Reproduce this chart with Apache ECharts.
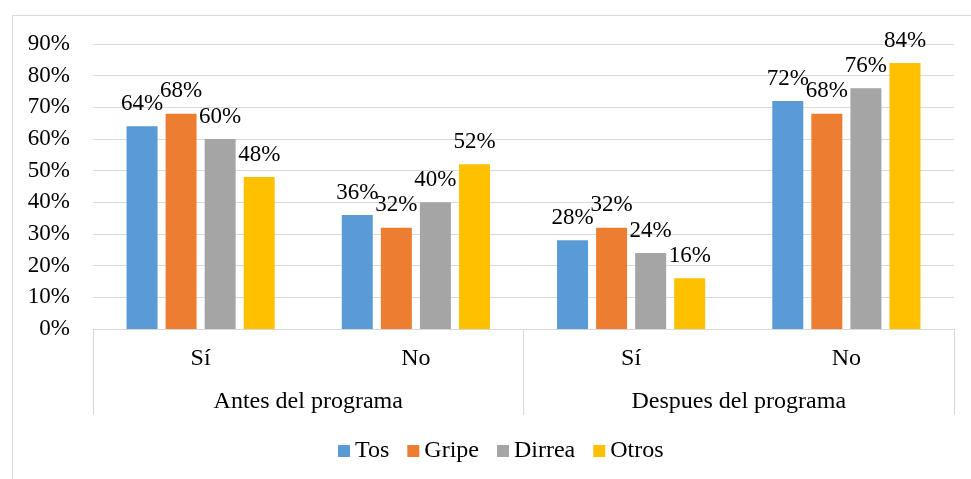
<!DOCTYPE html>
<html>
<head>
<meta charset="utf-8">
<script src="https://cdn.jsdelivr.net/npm/echarts@6/dist/echarts.min.js"></script>
<style>
  html, body { margin: 0; padding: 0; background: #ffffff; }
  #chart { width: 971px; height: 479px; }
</style>
</head>
<body>
<div id="chart"></div>
<script>
    const categories = ['Sí', 'No', 'Sí', 'No'];
    const groups = ['Antes del programa', 'Despues del programa'];
    const seriesNames = ['Tos', 'Gripe', 'Dirrea', 'Otros'];
    const tosData = [64, 36, 28, 72];
    const gripeData = [68, 32, 32, 68];
    const dirreaData = [60, 40, 24, 76];
    const otrosData = [48, 52, 16, 84];
    const colors = ['#5B9BD5', '#ED7D31', '#A5A5A5', '#FFC000'];

    const font = '"Liberation Serif", "Times New Roman", serif';
    const chart = echarts.init(document.getElementById('chart'));

    function makeSeries(name, data, color) {
        return {
            name: name,
            type: 'bar',
            data: data,
            xAxisIndex: 0,
            barWidth: 31,
            barGap: '26%',
            itemStyle: { color: color },
            label: {
                show: true,
                position: 'top',
                distance: 11,
                formatter: '{c}%',
                color: '#000000',
                fontFamily: font,
                fontSize: 23
            }
        };
    }

    const option = {
        backgroundColor: '#ffffff',
        animation: false,
        graphic: [{
            type: 'rect',
            z: -10,
            shape: { x: 12.5, y: 15.5, width: 990, height: 500 },
            style: { fill: 'none', stroke: '#d9d9d9', lineWidth: 1 }
        }],
        grid: {
            left: 93,
            right: 17,
            top: 44,
            bottom: 150
        },
        legend: {
            bottom: 11,
            left: 333,
            itemWidth: 12,
            itemHeight: 12,
            itemGap: 18,
            icon: 'rect',
            textStyle: {
                color: '#000000',
                fontFamily: font,
                fontSize: 24
            },
            data: seriesNames
        },
        xAxis: [{
            type: 'category',
            data: categories,
            axisLine: { lineStyle: { color: '#d9d9d9', width: 1 } },
            axisTick: { show: false },
            axisLabel: {
                color: '#000000',
                fontFamily: font,
                fontSize: 24,
                margin: 18
            }
        }, {
            type: 'category',
            data: groups,
            position: 'bottom',
            axisLine: { show: false },
            axisTick: {
                show: true,
                length: 86,
                lineStyle: { color: '#d9d9d9', width: 1 }
            },
            axisLabel: {
                color: '#000000',
                fontFamily: font,
                fontSize: 24,
                margin: 61
            }
        }],
        yAxis: {
            type: 'value',
            min: 0,
            max: 90,
            interval: 10,
            axisLine: { show: false },
            axisTick: { show: false },
            splitLine: { lineStyle: { color: '#d9d9d9', width: 1 } },
            axisLabel: {
                formatter: '{value}%',
                color: '#000000',
                fontFamily: font,
                fontSize: 23,
                margin: 23
            }
        },
        series: [
            makeSeries(seriesNames[0], tosData, colors[0]),
            makeSeries(seriesNames[1], gripeData, colors[1]),
            makeSeries(seriesNames[2], dirreaData, colors[2]),
            makeSeries(seriesNames[3], otrosData, colors[3])
        ]
    };

    chart.setOption(option);
</script>
</body>
</html>
